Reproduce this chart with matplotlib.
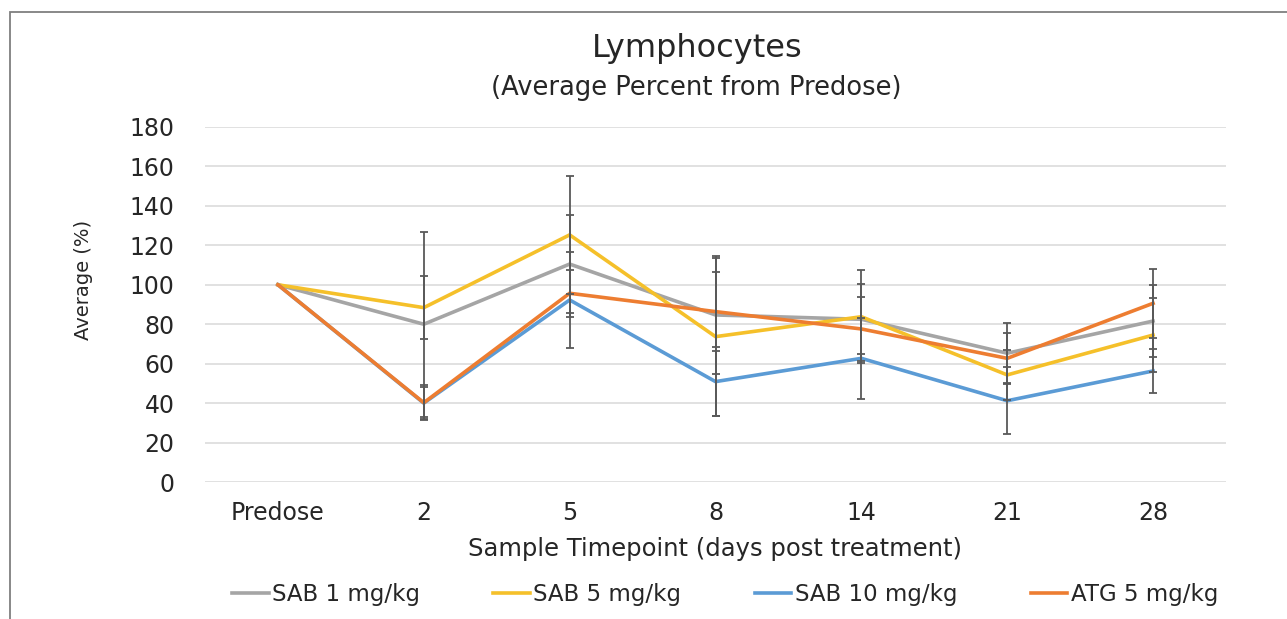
import numpy as np
import matplotlib
matplotlib.use("Agg")
import matplotlib.pyplot as plt
from matplotlib.patches import Rectangle

# data
timepoints = ["Predose", "2", "5", "8", "14", "21", "28"]
sab1 = [100, 80, 110.5, 84.7, 82.5, 65.3, 81.6]
sab5 = [100, 88.4, 125.3, 73.7, 83.8, 54.3, 74.5]
sab10 = [100, 40, 92.3, 50.9, 62.7, 41.2, 56.3]
atg5 = [100, 40.2, 95.7, 86.4, 77.6, 62.7, 90.6]

# error bar half widths (no bar at predose)
sab1_err = [np.nan, 47, 25, 30, 17.7, 15.2, 18.3]
sab5_err = [np.nan, 16, 30, 40, 23.7, 12.6, 18.7]
sab10_err = [np.nan, 8, 24.2, 17.4, 20.6, 17, 11]
atg5_err = [np.nan, 9, 12, 20.2, 16.4, 13, 17.4]

series = [
    ("SAB 1 mg/kg", sab1, sab1_err, "#A5A5A5"),
    ("SAB 5 mg/kg", sab5, sab5_err, "#F5C02A"),
    ("SAB 10 mg/kg", sab10, sab10_err, "#5B9BD5"),
    ("ATG 5 mg/kg", atg5, atg5_err, "#ED7D31"),
]

plt.rcParams['font.family'] = ['DejaVu Sans']

fig = plt.figure(figsize=(12.87, 6.19), dpi=100)
ax = fig.add_axes([205/1287, 1-482/619, (1226-205)/1287, (482-127)/619])

x = np.arange(len(timepoints))
for name, vals, err, col in series:
    ax.plot(x, vals, color=col, lw=2.6, label=name, zorder=2)
for name, vals, err, col in series:
    ax.errorbar(x, vals, yerr=err, fmt='none', ecolor='#595959',
                elinewidth=1.3, capsize=3, capthick=1.3, zorder=3)

ax.set_xlim(-0.5, 6.5)
ax.set_ylim(0, 180)
ax.set_yticks(range(0, 181, 20))
ax.set_xticks(x)
ax.set_xticklabels(timepoints)
ax.grid(axis='y', color='#D9D9D9', lw=1.1)
ax.set_axisbelow(True)
for s in ax.spines.values():
    s.set_visible(False)
ax.tick_params(length=0, labelsize=17, colors='#262626')
ax.tick_params(axis='y', pad=22)
ax.tick_params(axis='x', pad=14)

ax.set_ylabel("Average (%)", fontsize=14, color='#262626')
ax.yaxis.set_label_coords(-0.11, 0.57)
ax.set_xlabel("Sample Timepoint (days post treatment)", fontsize=17.5, color='#262626')
ax.xaxis.set_label_coords(0.5, -0.155)

fig.text(697/1287, 1-48/619, "Lymphocytes", ha='center', va='center',
         fontsize=23, color='#262626')
fig.text(696/1287, 1-88/619, "(Average Percent from Predose)", ha='center',
         va='center', fontsize=18.5, color='#262626')

fig.legend(loc='center', bbox_to_anchor=(725/1287, 1-595/619), ncol=4,
           frameon=False, fontsize=16.5, handlelength=1.6, handletextpad=0.15,
           columnspacing=3.2, labelcolor='#262626')

# chart area border
fig.patches.append(Rectangle((10/1287, -0.1), 1.2, 1.1 - 12/619,
                             transform=fig.transFigure, fill=False,
                             edgecolor='#7F7F7F', lw=1.3))

fig.savefig("out.png", dpi=100, facecolor='white')
